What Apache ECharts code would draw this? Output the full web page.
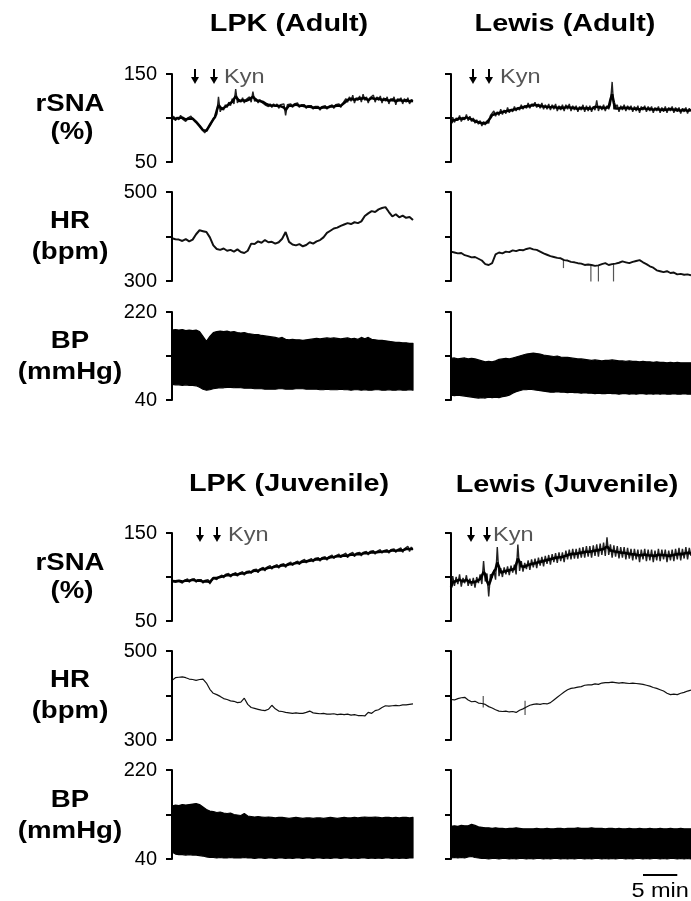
<!DOCTYPE html>
<html><head><meta charset="utf-8">
<script src="https://cdn.jsdelivr.net/npm/echarts@6/dist/echarts.min.js"></script>
<style>html,body{margin:0;padding:0;background:#fff}#c{width:691px;height:901px}</style>
</head><body><div id="c"></div>
<script>
// ---------- text ----------
const panelTitles = ['LPK (Adult)', 'Lewis (Adult)', 'LPK (Juvenile)', 'Lewis (Juvenile)'];
const rowLabels = [['rSNA', '(%)'], ['HR', '(bpm)'], ['BP', '(mmHg)']];
const kynLabel = 'Kyn';
const scaleBarLabel = '5 min';

// ---------- axes / ticks ----------
const timeRange = [0, 35];           // minutes
const rsnaTicks = [50, 100, 150];
const hrTicks = [300, 400, 500];
const bpTicks = [40, 130, 220];

// sampling step (min) of the read-off traces
const rsnaStep = 0.25, hrStep = 0.5, bpStep = 0.5;

// ---------- rSNA (%) ----------
const rsnaLpkAdult = [
99,102,97,101,98,103,99,101,96,100,98,102,99,97,96,93,91,89,86,83,
85,89,92,95,99,101,104,124,107,112,109,115,112,118,114,122,116,133,117,121,
118,123,117,121,119,124,118,130,119,122,117,121,118,120,115,117,113,116,112,116,
113,116,111,115,113,116,103,115,113,116,112,116,114,117,112,115,113,115,111,114,
112,114,110,113,111,113,109,113,111,114,110,113,112,115,111,115,113,116,112,116,
115,122,118,124,119,126,117,123,120,125,118,127,120,124,117,123,121,126,118,124,
120,125,117,123,119,124,116,122,119,124,115,122,119,123,116,122,118,123,116,121,
119];
const rsnaLewisAdult = [
92,101,95,100,97,103,96,101,98,104,97,102,96,100,94,98,93,97,91,96,
92,97,94,103,101,108,102,107,103,110,104,109,105,112,106,110,107,113,108,112,
109,115,110,114,111,117,111,116,113,118,112,116,111,117,110,115,110,116,109,115,
110,116,108,114,109,115,108,115,110,116,108,114,109,114,107,113,109,115,107,114,
108,114,107,113,109,120,108,114,109,115,108,114,110,116,141,110,109,115,107,114,
109,115,108,114,109,114,107,113,108,114,106,113,109,114,107,113,108,113,106,112,
108,113,106,112,107,113,106,112,108,113,106,112,107,112,105,111,107,112,105,111,
108];
const rsnaLpkJuv = [
95,97,94,96,95,97,93,96,95,98,94,97,96,98,94,97,95,97,93,96,
94,97,92,96,99,101,97,100,99,102,99,103,101,104,100,103,102,105,101,104,
103,106,102,106,104,107,104,108,106,109,105,109,108,111,107,111,109,113,109,112,
111,114,110,114,112,115,111,115,113,117,113,116,115,118,114,118,116,120,116,119,
117,121,117,121,119,122,118,122,120,123,119,123,121,125,121,124,122,126,122,125,
123,127,122,126,124,128,123,127,125,128,124,128,126,129,125,129,127,130,126,129,
127,131,127,130,128,131,127,131,129,132,128,131,129,133,128,132,130,135,129,134,
131];
const rsnaLewisJuv = [
84,101,90,100,92,103,89,99,93,102,90,98,90,99,88,100,93,103,92,118,
95,104,78,103,99,108,97,134,101,110,100,111,103,112,102,113,105,114,103,137,
107,118,106,116,109,119,108,120,111,121,110,122,113,123,112,124,115,125,114,126,
117,127,116,128,118,128,117,130,120,131,120,132,121,132,121,133,122,134,122,135,
123,135,122,136,124,137,123,138,125,139,124,145,125,137,122,136,123,135,121,134,
122,134,120,133,121,132,119,132,120,131,117,131,120,132,118,131,119,131,117,130,
119,132,118,131,120,131,117,130,119,131,118,132,120,133,119,132,121,134,120,133,
124];

// ---------- HR (bpm) ----------
const hrLpkAdult = [
396,394,393,390,394,389,393,405,414,412,410,398,380,372,370,373,368,370,366,371,
365,363,368,384,383,389,386,392,387,388,384,387,395,410,388,382,380,383,378,381,
387,384,389,392,398,408,413,418,420,424,427,430,428,432,430,434,446,452,457,455,
461,464,466,455,445,450,443,447,442,444,437];
const hrLewisAdult = [
366,364,362,363,358,356,353,354,350,346,338,336,340,360,364,362,366,365,369,367,
370,369,372,374,371,370,366,362,359,356,354,352,351,347,346,343,342,340,339,336,
337,336,334,335,338,340,336,338,339,341,344,342,340,343,345,347,342,338,333,330,
324,322,320,322,318,319,315,316,314,315,313];
const hrLpkJuv = [
434,440,441,442,440,437,436,434,436,437,428,414,405,402,398,393,391,388,387,384,
385,394,380,373,371,369,367,366,369,378,370,365,364,362,361,360,361,360,360,362,
365,361,360,359,360,358,358,359,357,358,357,358,356,357,355,355,354,362,360,366,
368,373,377,376,377,378,377,379,379,380,381];
const hrLewisJuv = [
391,390,393,395,396,390,386,387,383,382,380,375,372,368,365,364,365,363,364,362,
367,370,374,378,380,381,380,382,381,384,390,396,402,408,413,416,417,419,420,423,
424,424,426,425,428,429,429,430,429,428,429,428,427,428,427,426,425,423,421,418,
416,413,410,405,402,403,402,405,407,410,412];
// brief artefact spikes in HR: [time, low, high]
const hrLewisAdultSpikes = [[16.4, 329, 349], [20.4, 299, 337], [21.5, 299, 335], [23.7, 299, 339]];
const hrLewisJuvSpikes = [[4.7, 373, 399], [10.8, 356, 388]];

// ---------- BP (mmHg): systolic (upper) and diastolic (lower) envelopes ----------
const bpLpkAdultHigh = [
183,184,183,184,182,183,182,183,180,170,160,170,178,180,181,180,181,179,180,178,
177,178,176,175,174,174,172,171,170,169,168,166,168,164,163,164,163,163,162,163,
164,165,166,165,166,167,166,167,166,165,166,167,165,166,164,168,165,168,164,163,
162,162,161,160,159,158,158,157,157,156,156];
const bpLpkAdultLow = [
72,71,71,70,71,70,70,69,66,62,60,61,63,64,65,65,66,66,65,66,
65,64,64,64,63,63,63,62,62,62,62,63,63,62,62,62,63,63,63,62,
62,62,62,61,61,62,61,61,61,62,61,61,60,61,61,60,61,60,60,61,
61,60,60,61,60,60,61,60,60,61,60];
const bpLewisAdultHigh = [
125,126,124,125,126,124,125,124,122,120,118,119,118,120,123,124,125,124,126,128,
130,132,134,135,136,135,134,132,131,130,129,130,128,127,127,126,125,124,124,123,
122,121,122,121,120,121,121,122,121,120,120,119,120,119,119,118,119,118,118,117,
118,117,117,116,117,116,117,116,116,116,116];
const bpLewisAdultLow = [
50,49,50,49,48,47,46,45,44,45,44,46,45,46,45,47,48,50,54,57,
59,61,61,62,61,60,59,58,57,56,56,57,56,56,55,56,55,55,54,55,
54,54,53,54,53,53,54,53,53,52,53,53,52,53,52,53,53,52,53,52,
53,52,53,52,52,53,52,52,53,52,52];
const bpLpkJuvHigh = [
147,149,148,150,149,150,151,152,150,145,140,137,136,134,135,133,132,133,130,129,
128,132,127,126,125,126,125,124,125,124,123,124,124,123,122,123,124,123,122,123,
123,122,123,123,122,123,124,123,122,123,124,123,123,124,123,124,125,124,124,125,
124,123,124,124,123,124,123,124,124,123,124];
const bpLpkJuvLow = [
54,50,49,49,48,49,48,48,47,46,44,43,43,42,43,42,42,43,42,42,
42,43,42,42,41,42,42,41,42,42,41,42,42,41,42,41,42,42,41,42,
42,41,42,42,41,42,41,42,42,41,42,42,41,42,41,42,42,41,42,41,
42,41,42,42,41,42,41,42,41,42,42];
const bpLewisJuvHigh = [
106,107,106,108,107,107,110,108,105,104,103,103,102,103,102,102,101,102,102,103,
102,101,101,101,101,102,101,101,102,101,101,102,102,101,102,102,102,103,102,102,
102,103,102,102,102,101,102,102,101,102,101,101,102,101,101,102,101,101,102,101,
101,102,101,101,102,101,101,102,101,101,101];
const bpLewisJuvLow = [
42,43,42,43,42,44,45,43,42,41,41,40,41,41,40,41,41,40,41,40,
41,41,40,41,40,41,41,40,41,40,41,41,40,41,40,41,40,41,41,40,
41,40,41,41,40,41,40,41,40,41,41,40,41,40,41,41,40,41,40,41,
41,40,41,40,41,41,40,41,40,41,40];

// ---------- Kynurenic acid injection times (min) and scale bar ----------
const kynLpkAdult = [3.4, 6.1];
const kynLewisAdult = [3.2, 5.6];
const kynLpkJuv = [4.0, 6.6];
const kynLewisJuv = [2.9, 5.2];
const scaleBarStart = 28, scaleBarMinutes = 5;

// ================= build =================
const panels = [
  {rsna: rsnaLpkAdult, hr: hrLpkAdult, hi: bpLpkAdultHigh, lo: bpLpkAdultLow, kyn: kynLpkAdult, spikes: [], hrW: 2},
  {rsna: rsnaLewisAdult, hr: hrLewisAdult, hi: bpLewisAdultHigh, lo: bpLewisAdultLow, kyn: kynLewisAdult, spikes: hrLewisAdultSpikes, hrW: 1.9},
  {rsna: rsnaLpkJuv, hr: hrLpkJuv, hi: bpLpkJuvHigh, lo: bpLpkJuvLow, kyn: kynLpkJuv, spikes: [], hrW: 1.2},
  {rsna: rsnaLewisJuv, hr: hrLewisJuv, hi: bpLewisJuvHigh, lo: bpLewisJuvLow, kyn: kynLewisJuv, spikes: hrLewisJuvSpikes, hrW: 1.2}
];
const rowTicks = [rsnaTicks, hrTicks, bpTicks];

// layout (px)
const colLeft = [172, 451], colWidth = [241, 240];
const blockTops = [[74, 192, 312], [533, 651, 770]];
const blockHeights = [[88, 89, 88], [88, 89, 89]];
const titleCenters = [[289, 24], [565, 24], [289, 484], [567, 485]];
const labelFont = 'Arial, "Liberation Sans", sans-serif';

function pairs(vals, step) { return vals.map((v, i) => [i * step, v]); }
// 3-point running mean: the dark core of a noisy trace
function core(vals, step) {
  const n = vals.length;
  return vals.map((v, i) => [i * step, (vals[Math.max(0, i - 1)] + 2 * v + vals[Math.min(n - 1, i + 1)]) / 4]);
}

function bandRenderer(hi, lo, step, style) {
  return function (params, api) {
    if (params.dataIndex !== 0) return null;
    const pts = [];
    for (let i = 0; i < hi.length; i++) pts.push(api.coord([i * step, hi[i]]));
    for (let i = lo.length - 1; i >= 0; i--) pts.push(api.coord([i * step, lo[i]]));
    return {type: 'polygon', shape: {points: pts}, style: style};
  };
}

function spikeRenderer(params, api) {
  const a = api.coord([api.value(0), api.value(1)]);
  const b = api.coord([api.value(0), api.value(2)]);
  return {type: 'line', shape: {x1: a[0], y1: a[1], x2: b[0], y2: b[1]}, style: {stroke: '#555', lineWidth: 1.2}};
}

const grids = [], xAxes = [], yAxes = [], series = [];
panels.forEach((P, p) => {
  const col = p % 2, blk = p < 2 ? 0 : 1;
  for (let r = 0; r < 3; r++) {
    const gi = p * 3 + r;
    const ticks = rowTicks[r];
    grids.push({left: colLeft[col], width: colWidth[col], top: blockTops[blk][r], height: blockHeights[blk][r], containLabel: false});
    xAxes.push({type: 'value', gridIndex: gi, min: timeRange[0], max: timeRange[1], show: false});
    yAxes.push({
      type: 'value', gridIndex: gi, min: ticks[0], max: ticks[2], z: 5,
      axisLine: {show: true, onZero: false, lineStyle: {color: '#000', width: 2}},
      axisTick: {show: true, inside: false, length: 6, lineStyle: {color: '#000', width: 2}, customValues: ticks},
      axisLabel: {show: col === 0, customValues: [ticks[0], ticks[2]], margin: 15, fontSize: 20, fontFamily: labelFont, color: '#000'},
      splitLine: {show: false}
    });
    if (r === 0) {
      series.push({type: 'line', xAxisIndex: gi, yAxisIndex: gi, data: pairs(P.rsna, rsnaStep), showSymbol: false, symbol: 'none',
        lineStyle: {color: '#222', width: 1.4}, silent: true, animation: false});
      series.push({type: 'line', xAxisIndex: gi, yAxisIndex: gi, data: core(P.rsna, rsnaStep), showSymbol: false, symbol: 'none',
        lineStyle: {color: '#000', width: 2.6}, silent: true, animation: false});
    } else if (r === 1) {
      series.push({type: 'line', xAxisIndex: gi, yAxisIndex: gi, data: pairs(P.hr, hrStep), showSymbol: false, symbol: 'none',
        lineStyle: {color: '#111', width: P.hrW}, silent: true, animation: false});
      if (P.spikes.length) {
        series.push({type: 'custom', xAxisIndex: gi, yAxisIndex: gi, data: P.spikes, encode: {x: 0, y: [1, 2]},
          renderItem: spikeRenderer, silent: true, animation: false});
      }
    } else {
      series.push({type: 'custom', xAxisIndex: gi, yAxisIndex: gi,
        data: P.hi.map((v, i) => [i * bpStep, P.lo[i], v]), encode: {x: 0, y: [1, 2]},
        renderItem: bandRenderer(P.hi, P.lo, bpStep, {fill: '#000', stroke: '#000', lineWidth: 1.2, lineJoin: 'round'}),
        silent: true, animation: false});
    }
  }
});

const chart = echarts.init(document.getElementById('c'), null, {renderer: 'canvas'});
chart.setOption({animation: false, backgroundColor: '#fff', grid: grids, xAxis: xAxes, yAxis: yAxes, series: series});

// ---------- annotations ----------
function txt(str, x, y, size, bold, sx, align, fill) {
  const font = (bold ? 'bold ' : '') + size + 'px ' + labelFont;
  return {type: 'text', x: x, y: y, scaleX: sx, silent: true, z: 100,
    style: {text: str, x: 0, y: 0, font: font, fill: fill || '#000', align: align, textAlign: align, verticalAlign: 'middle', textVerticalAlign: 'middle'}};
}
const g = [];
panelTitles.forEach((t, p) => g.push(txt(t, titleCenters[p][0], titleCenters[p][1], 24, true, 1.2, 'center')));
const rowLabelY = [[104, 132], [221, 252], [341, 372]];
[0, 1].forEach(blk => {
  const off = blk === 0 ? 0 : 459;
  rowLabels.forEach((pair, r) => {
    g.push(txt(pair[0], 70, rowLabelY[r][0] + off, 24, true, 1.15, 'center'));
    g.push(txt(pair[1], r === 0 ? 72 : 70, rowLabelY[r][1] + off, 24, true, 1.15, 'center'));
  });
});
const kynTextOffset = [10, 11, 11, 6];
panels.forEach((P, p) => {
  const gi = p * 3;
  const yTop = p < 2 ? 69 : 527, yBot = p < 2 ? 84 : 542;
  let lastX = 0;
  P.kyn.forEach(t => {
    const x = Math.round(chart.convertToPixel({gridIndex: gi}, [t, rsnaTicks[1]])[0]);
    lastX = x;
    g.push({type: 'line', silent: true, z: 100, shape: {x1: x, y1: yTop, x2: x, y2: yBot - 5}, style: {stroke: '#000', lineWidth: 2}});
    g.push({type: 'polygon', silent: true, z: 100, shape: {points: [[x - 4, yBot - 7], [x + 4, yBot - 7], [x, yBot]]}, style: {fill: '#000'}});
  });
  g.push(txt(kynLabel, lastX + kynTextOffset[p], (yTop + yBot) / 2 + 0.5, 21, false, 1.12, 'left', '#555'));
});
// scale bar on the last grid
const sb0 = chart.convertToPixel({gridIndex: 11}, [scaleBarStart, bpTicks[0]]);
const sb1 = chart.convertToPixel({gridIndex: 11}, [scaleBarStart + scaleBarMinutes, bpTicks[0]]);
g.push({type: 'line', silent: true, z: 100, shape: {x1: sb0[0], y1: 875, x2: sb1[0], y2: 875}, style: {stroke: '#000', lineWidth: 2}});
g.push(txt(scaleBarLabel, (sb0[0] + sb1[0]) / 2, 891, 21, false, 1.12, 'center'));
chart.setOption({graphic: {elements: g}});
</script>
</body></html>
